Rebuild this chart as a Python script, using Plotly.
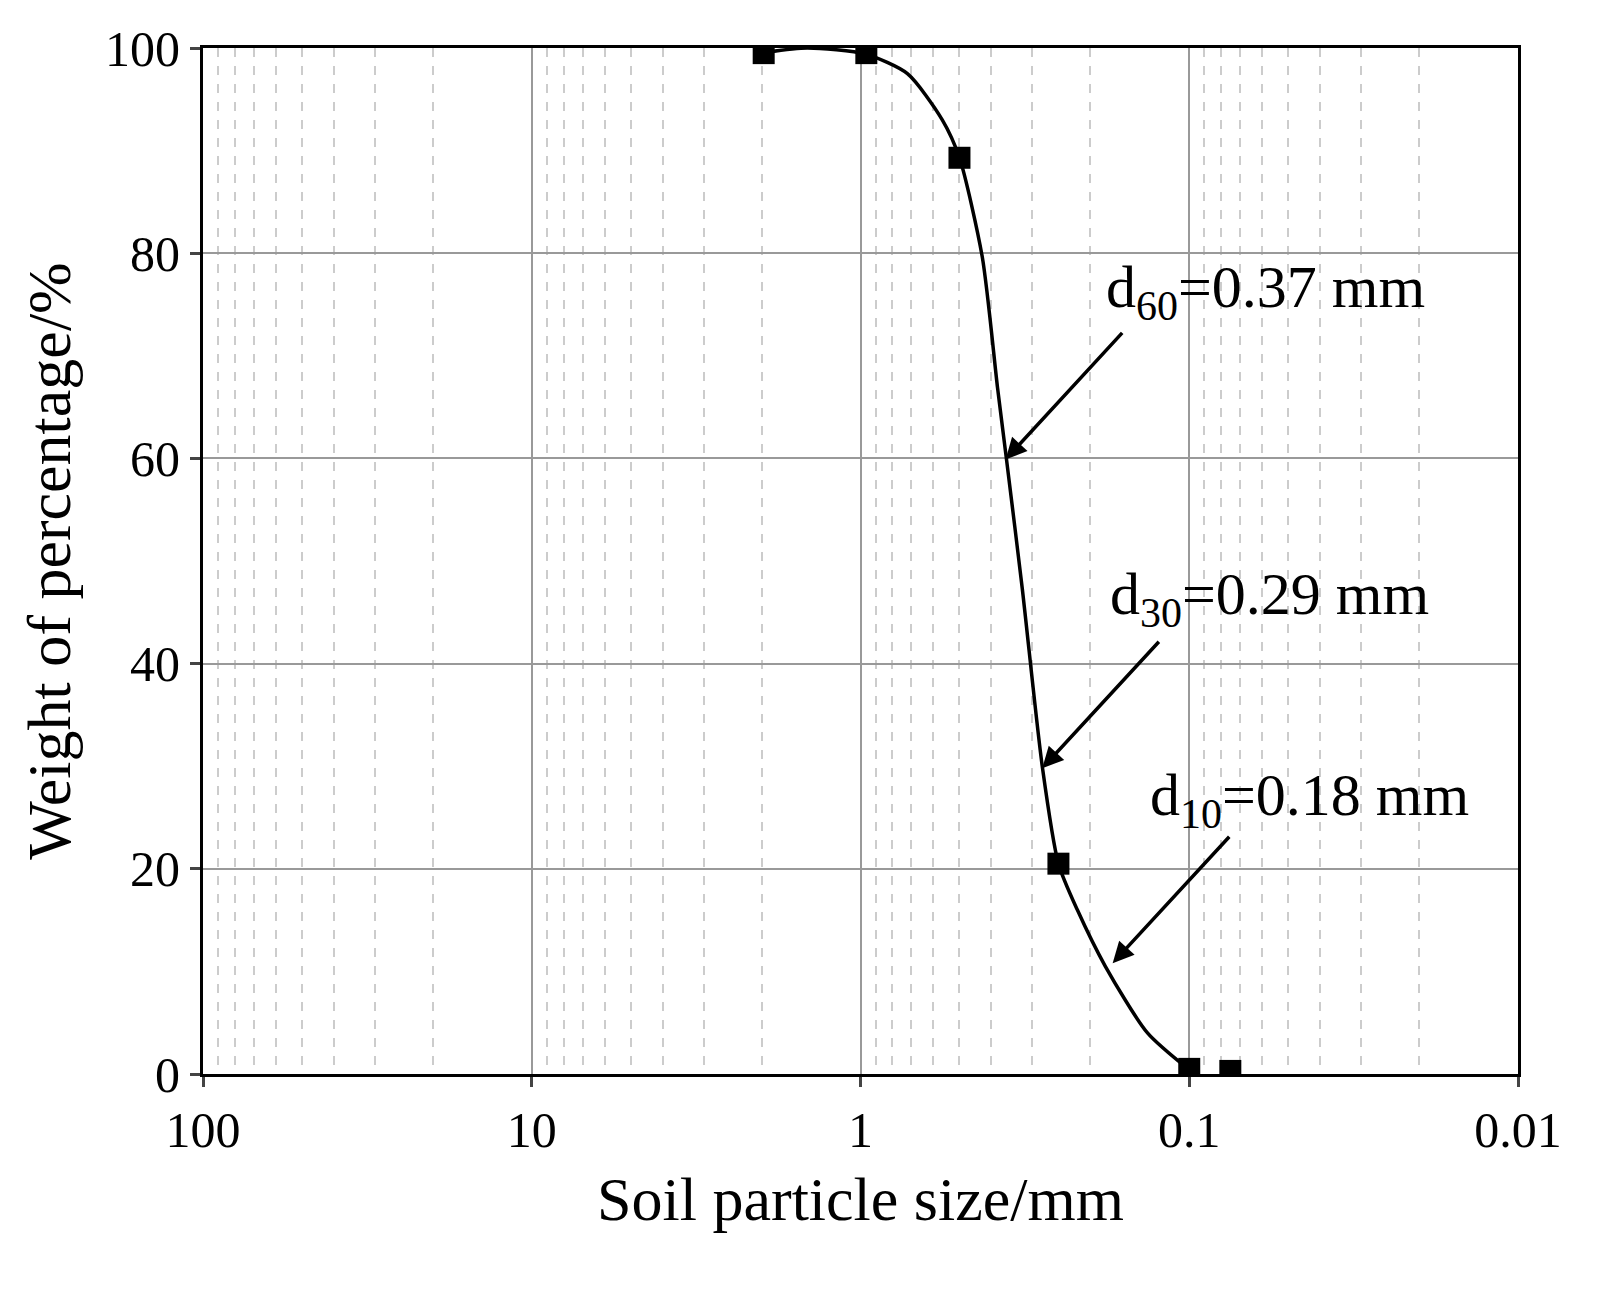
import math
import plotly.graph_objects as go

# measured sieve data
size_mm = [1.97, 0.96, 0.5, 0.25, 0.1, 0.075]
passing = [99.5, 99.5, 89.3, 20.5, 0.5, 0.3]

# fitted curve
curve_x = [1.92, 1.45, 0.966, 0.72, 0.564, 0.5, 0.426, 0.383, 0.36, 0.322, 0.28, 0.25, 0.219, 0.18, 0.134, 0.1]
curve_y = [99.6, 100, 99.4, 97.5, 93, 89.3, 79.6, 66.9, 60, 47.3, 30, 20.5, 16, 10.5, 4, 0.4]

labels = ["d<sub>60</sub>=0.37 mm", "d<sub>30</sub>=0.29 mm", "d<sub>10</sub>=0.18 mm"]
label_x = [0.0587, 0.0571, 0.0432]
label_y = [76.3, 46.3, 26.8]
arrow_x = [0.362, 0.28, 0.171]
arrow_y = [59.9, 29.8, 10.8]

minor_vals = [m * 10 ** e for e in range(-2, 2) for m in range(2, 10)]

font = "Liberation Serif"

fig = go.Figure()
fig.add_trace(go.Scatter(x=curve_x, y=curve_y, mode="lines",
                         line=dict(color="black", width=3.5, shape="spline", smoothing=0.7),
                         showlegend=False))
fig.add_trace(go.Scatter(x=size_mm, y=passing, mode="markers",
                         marker=dict(symbol="square", size=22, color="black"), showlegend=False))

for ax_, ay_ in zip(arrow_x, arrow_y):
    fig.add_annotation(x=math.log10(ax_), y=ay_, xref="x", yref="y", text="", showarrow=True,
                       ax=118, ay=-128, arrowhead=2, arrowsize=1.2, arrowwidth=3.5, arrowcolor="black")
for t, lx, ly in zip(labels, label_x, label_y):
    fig.add_annotation(x=math.log10(lx), y=ly, xref="x", yref="y", text=t, showarrow=False,
                       font=dict(family=font, size=60, color="black"))

fig.update_layout(
    width=1622, height=1304,
    margin=dict(l=195, r=112, t=38, b=238),
    plot_bgcolor="white", paper_bgcolor="white",
    font=dict(family=font, size=50, color="black"),
)
fig.update_xaxes(type="log", range=[2, -2], tickvals=[100, 10, 1, 0.1, 0.01],
                 ticktext=["100", "10", "1", "0.1", "0.01"],
                 showgrid=True, gridcolor="#999999", gridwidth=1.5,
                 minor=dict(tickvals=minor_vals, showgrid=True, gridcolor="#cccccc",
                            griddash="dash", ticks=""),
                 showline=True, linecolor="black", linewidth=3, mirror=True,
                 ticks="outside", ticklen=10, tickwidth=2.5,
                 title=dict(text="Soil particle size/mm", font=dict(size=62), standoff=20))
fig.update_yaxes(range=[0, 100], tickvals=[0, 20, 40, 60, 80, 100],
                 showgrid=True, gridcolor="#999999", gridwidth=1.5,
                 showline=True, linecolor="black", linewidth=3, mirror=True,
                 ticks="outside", ticklen=10, tickwidth=2.5, zeroline=False,
                 title=dict(text="Weight of percentage/%", font=dict(size=62), standoff=15))

fig.write_html("out.html")
